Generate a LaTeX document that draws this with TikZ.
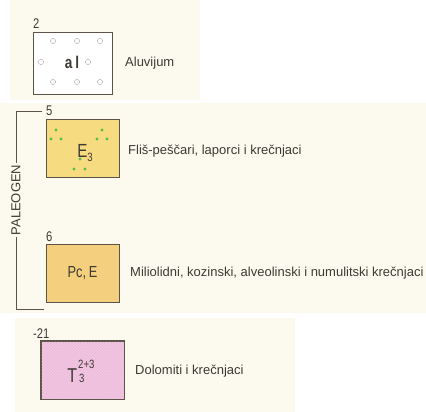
\documentclass[tikz,border=0pt]{standalone}
\usepackage{fontspec}
\setmainfont{Liberation Sans}
\newfontfamily\cond{Liberation Sans}[FakeStretch=0.8]
\usetikzlibrary{patterns}
\definecolor{paper}{HTML}{FCFAEE}
\definecolor{ink}{HTML}{3E3A34}
\definecolor{frame}{HTML}{5C5448}
\definecolor{eoc}{HTML}{F7DB80}
\definecolor{pce}{HTML}{F4D07E}
\definecolor{tri}{HTML}{F3C5E3}
\definecolor{dotg}{HTML}{4FC04A}
\definecolor{ring}{HTML}{BDB8AE}
\tikzset{
  unit/.style={draw=frame, line width=0.8pt, minimum width=#1, inner sep=0pt, font=\cond\fontsize{16}{16}\selectfont\color{ink}},
  desc/.style={anchor=west, inner sep=0pt, font=\fontsize{13}{13}\selectfont\color{ink}},
  num/.style={anchor=base west, inner sep=0pt, font=\cond\fontsize{14}{14}\selectfont\color{ink}},
  gdot/.style={fill=dotg, draw=none},
  hring/.style={draw=ring, line width=0.5pt, fill=none},
  brace/.style={draw=frame, line width=0.7pt}
}
\begin{document}
\begin{tikzpicture}[x=1pt, y=-1pt]
\useasboundingbox (0,0) rectangle (426,412);
% paper tone behind the legend
\fill[white] (0,0) rectangle (426,412);
\fill[paper] (10,0) rectangle (200,100);
\fill[paper] (0,103) rectangle (426,313);
\fill[paper] (15,318) rectangle (295,412);

% alluvium
\node[unit=79pt, minimum height=62pt, fill=white] (al) at (72.5,63) {};
\foreach \p in {(53,41),(77,41),(100,41),(41,62),(88,62),(53,82),(77,82),(100,82)}
  \draw[hring] \p circle (2.6pt);
\node[font=\cond\fontsize{17}{17}\selectfont\bfseries\color{ink}] (alt) at (72,62) {a\,l};
\node[num] (n2) at (33,29) {2};
\node[desc] (d1) at (125,63) {Aluvijum};

% Eocene flysch
\node[unit=73pt, minimum height=58pt, fill=eoc] (e3) at (82.5,148) {};
\foreach \p in {(56,130),(51,139),(61,139),(102,130),(97,139),(107,139),(80,159),(74,169),(85,169)}
  \fill[gdot] \p circle (1.6pt);
\node[font=\cond\fontsize{19}{19}\selectfont\color{ink}, inner sep=0pt] (e3t) at (85,153) {E\raisebox{-0.25em}{\fontsize{12}{12}\selectfont 3}};
\node[num] (n5) at (46,116) {5};
\node[desc] (d2) at (128,151) {Fliš-peščari, laporci i krečnjaci};

% Paleocene-Eocene limestones
\node[unit=73pt, minimum height=58pt, fill=pce] (pc) at (82.5,273) {Pc,\,E};
\node[num] (n6) at (46,241) {6};
\node[desc] (d3) at (130,273) {Miliolidni, kozinski, alveolinski i numulitski krečnjaci};

% Upper Triassic dolomites
\node[unit=83pt, minimum height=58pt, fill=tri] (t3) at (82.5,370) {};
\fill[pattern=north east lines, pattern color=tri!80!black, opacity=0.25] (t3.south west) rectangle (t3.north east);
\draw[draw=frame, line width=0.8pt] (t3.south west) rectangle (t3.north east);
\node[font=\cond\fontsize{20}{20}\selectfont\color{ink}, inner sep=0pt] (t3t) at (81,373)
  {T\kern1pt\raisebox{0.3em}{\fontsize{12}{12}\selectfont\begin{tabular}[c]{@{}l@{}}2+3\\[1.5pt]\kern1pt3\end{tabular}}};
\node[num] (n21) at (33,338) {-21};
\node[desc] (d4) at (135,371) {Dolomiti i krečnjaci};

% Paleogene bracket
\node[rotate=90, inner sep=1.5pt, font=\fontsize{13}{13}\selectfont\color{ink}] (pg) at (16,200) {PALEOGEN};
\coordinate (bt) at (42,111);
\coordinate (bb) at (44,309);
\draw[brace] (bt) -| (pg.east);
\draw[brace] (bb) -| (pg.west);
\end{tikzpicture}
\end{document}
